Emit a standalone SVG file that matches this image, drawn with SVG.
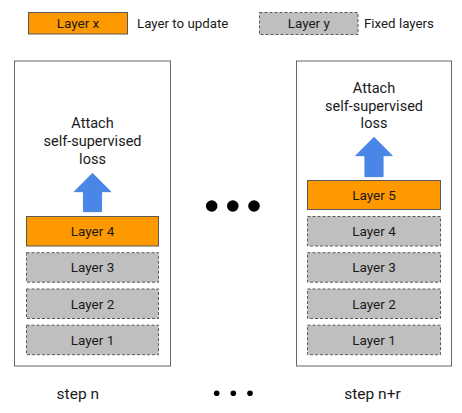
<svg xmlns="http://www.w3.org/2000/svg" width="462" height="413" viewBox="0 0 462 413">
<style>
text{font-family:Roboto,"Liberation Sans",Arial,sans-serif;fill:#1a1a1a}
.lbl{font-size:13.5px;text-anchor:middle}
.leg{font-size:13.3px}
.att{font-size:14.5px;text-anchor:middle}
.step{font-size:15.5px;text-anchor:middle}
.upd{fill:#ff9900;stroke:#595959;stroke-width:1}
.fix{fill:#bfbfbf;stroke:#595959;stroke-width:1;stroke-dasharray:3,2}
.panel{fill:#ffffff;stroke:#666666;stroke-width:1}
.arr{fill:#4a86e8;stroke:#3c78d8;stroke-width:0.8}
.dot{fill:#000000}
</style>
<rect width="462" height="413" fill="#ffffff"/>
<g id="legend">
<rect class="upd" x="28.5" y="12.5" width="99" height="21.5"/>
<text class="lbl" x="78" y="28">Layer x</text>
<text class="leg" x="137" y="28">Layer to update</text>
<rect class="fix" x="259.5" y="12.5" width="98.5" height="22"/>
<text class="lbl" x="308.8" y="28">Layer y</text>
<text class="leg" x="364" y="28">Fixed layers</text>
</g>
<g id="panel-n">
<rect class="panel" x="14.5" y="61" width="156" height="305"/>
<text class="att" x="92.5" y="128">Attach</text>
<text class="att" x="92.5" y="146">self-supervised</text>
<text class="att" x="92.5" y="163.5">loss</text>
</g>
<g id="n-layer4"><rect class="upd" x="26.5" y="216.5" width="132" height="29.5"/><text class="lbl" x="92.5" y="236">Layer 4</text></g>
<g id="n-layer3"><rect class="fix" x="26.5" y="252.7" width="132" height="29.5"/><text class="lbl" x="92.5" y="272.2">Layer 3</text></g>
<g id="n-layer2"><rect class="fix" x="26.5" y="289" width="132" height="29.5"/><text class="lbl" x="92.5" y="308.5">Layer 2</text></g>
<g id="n-layer1"><rect class="fix" x="26.5" y="325.2" width="132" height="29.5"/><text class="lbl" x="92.5" y="344.7">Layer 1</text></g>
<g id="panel-nr">
<rect class="panel" x="296.5" y="61" width="155" height="305"/>
<text class="att" x="374" y="92.5">Attach</text>
<text class="att" x="374" y="110.5">self-supervised</text>
<text class="att" x="374" y="128">loss</text>
</g>
<g id="nr-layer5"><rect class="upd" x="307.5" y="180.5" width="133" height="29"/><text class="lbl" x="374" y="199.8">Layer 5</text></g>
<g id="nr-layer4"><rect class="fix" x="307.5" y="216.5" width="133" height="29.5"/><text class="lbl" x="374" y="236">Layer 4</text></g>
<g id="nr-layer3"><rect class="fix" x="307.5" y="252.7" width="133" height="29.5"/><text class="lbl" x="374" y="272.2">Layer 3</text></g>
<g id="nr-layer2"><rect class="fix" x="307.5" y="289" width="133" height="29.5"/><text class="lbl" x="374" y="308.5">Layer 2</text></g>
<g id="nr-layer1"><rect class="fix" x="307.5" y="325.2" width="133" height="29.5"/><text class="lbl" x="374" y="344.7">Layer 1</text></g>
<g id="connectors">
<path class="arr" d="M92.5,173.3 L110.8,191.7 L101.6,191.7 L101.6,211.7 L83.4,211.7 L83.4,191.7 L74.2,191.7 Z"/>
<path class="arr" d="M374,137.3 L392.3,155.7 L383.1,155.7 L383.1,176.7 L364.9,176.7 L364.9,155.7 L355.7,155.7 Z"/>
</g>
<g id="ellipsis">
<circle class="dot" cx="211.7" cy="206" r="5.8"/>
<circle class="dot" cx="232.8" cy="206" r="5.8"/>
<circle class="dot" cx="254" cy="206" r="5.8"/>
<circle class="dot" cx="216.7" cy="393.3" r="2.8"/>
<circle class="dot" cx="233.3" cy="393.3" r="2.8"/>
<circle class="dot" cx="250" cy="393.3" r="2.8"/>
</g>
<g id="steps">
<text class="step" x="77.8" y="398.5">step n</text>
<text class="step" x="372.5" y="398.5">step n+r</text>
</g>
</svg>
